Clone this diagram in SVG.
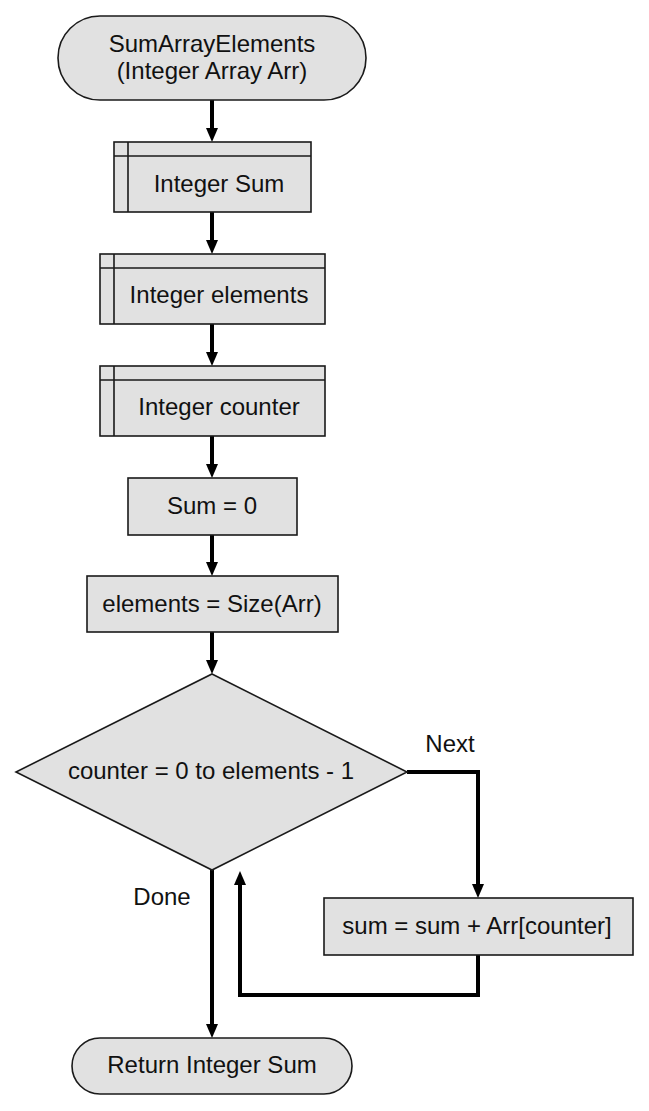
<svg xmlns="http://www.w3.org/2000/svg" width="649" height="1111" viewBox="0 0 649 1111">
<defs>
<style>
.shape{fill:#e1e1e1;stroke:#1a1a1a;stroke-width:1.6}
.inner{fill:none;stroke:#1a1a1a;stroke-width:1.6}
.t{font-family:"Liberation Sans",Arial,sans-serif;font-size:24px;fill:#111;text-anchor:middle}
.c{fill:none;stroke:#000;stroke-width:4;stroke-linejoin:miter}
</style>
<marker id="arr" markerUnits="userSpaceOnUse" viewBox="0 0 14 12" refX="6" refY="6" markerWidth="14" markerHeight="12" orient="auto">
<path d="M0,0 L14,6 L0,12 Z" fill="#000"/>
</marker>
</defs>
<rect width="649" height="1111" fill="#fff"/>
<g id="connectors">
<path class="c" d="M212,100 V134" marker-end="url(#arr)"/>
<path class="c" d="M212,212 V246" marker-end="url(#arr)"/>
<path class="c" d="M212,324 V358" marker-end="url(#arr)"/>
<path class="c" d="M212,436 V470" marker-end="url(#arr)"/>
<path class="c" d="M212,535 V568" marker-end="url(#arr)"/>
<path class="c" d="M212,632 V666" marker-end="url(#arr)"/>
<path class="c" d="M407,772 H478 V890" marker-end="url(#arr)"/>
<path class="c" d="M478,955 V995 H240 V879" marker-end="url(#arr)"/>
<path class="c" d="M212,870 V1030" marker-end="url(#arr)"/>
<text class="t" x="450" y="752">Next</text>
<text class="t" x="162" y="905">Done</text>
</g>
<g id="start">
<rect class="shape" x="58" y="16" width="308" height="84" rx="42" ry="42"/>
<text class="t" x="212" y="52">SumArrayElements</text>
<text class="t" x="212" y="79">(Integer Array Arr)</text>
</g>
<g id="declSum">
<rect class="shape" x="114" y="142" width="197" height="70"/>
<path class="inner" d="M128,142 V212 M114,156 H311"/>
<text class="t" x="219" y="192">Integer Sum</text>
</g>
<g id="declElements">
<rect class="shape" x="100" y="254" width="225" height="70"/>
<path class="inner" d="M114,254 V324 M100,268 H325"/>
<text class="t" x="219" y="303">Integer elements</text>
</g>
<g id="declCounter">
<rect class="shape" x="100" y="366" width="225" height="70"/>
<path class="inner" d="M114,366 V436 M100,380 H325"/>
<text class="t" x="219" y="415">Integer counter</text>
</g>
<g id="sumZero">
<rect class="shape" x="128" y="478" width="169" height="57"/>
<text class="t" x="212" y="514">Sum = 0</text>
</g>
<g id="elementsSize">
<rect class="shape" x="87" y="576" width="251" height="56"/>
<text class="t" x="212" y="612">elements = Size(Arr)</text>
</g>
<g id="loop">
<polygon class="shape" points="212,674 407,772 212,870 16,772"/>
<text class="t" x="211" y="779">counter = 0 to elements - 1</text>
</g>
<g id="accumulate">
<rect class="shape" x="324" y="898" width="309" height="57"/>
<text class="t" x="477" y="934">sum = sum + Arr[counter]</text>
</g>
<g id="end">
<rect class="shape" x="72" y="1038" width="280" height="56" rx="28" ry="28"/>
<text class="t" x="212" y="1073">Return Integer Sum</text>
</g>
</svg>
